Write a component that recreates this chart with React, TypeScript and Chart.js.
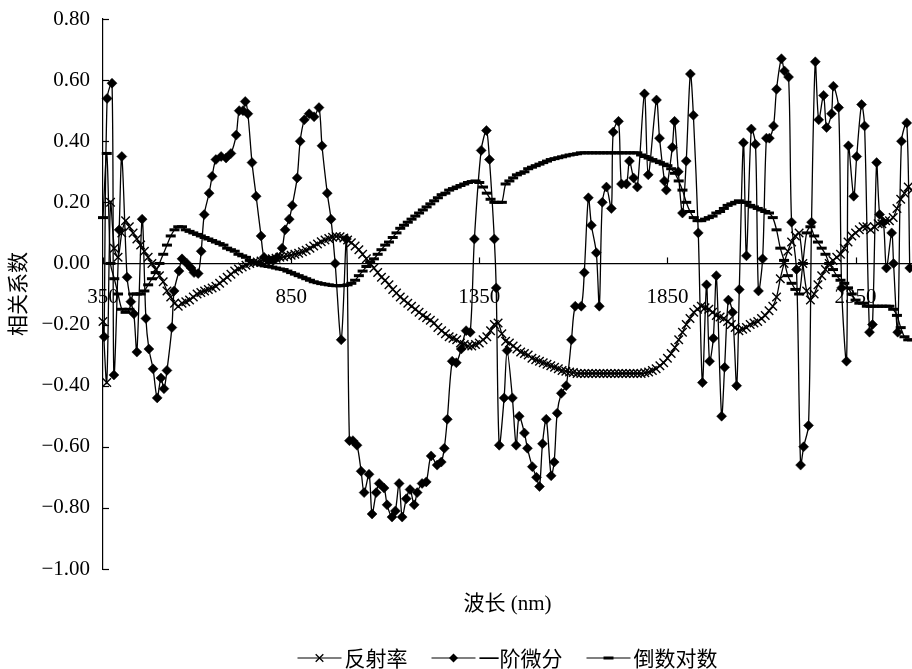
import React, { useEffect, useRef } from 'react';
import { Chart, registerables } from 'chart.js';

Chart.register(...registerables);

// Wavelength categories (nm), 10 nm step
const wavelengths = [
  350, 360, 370, 380, 390, 400, 410, 420, 430, 440,
  450, 460, 470, 480, 490, 500, 510, 520, 530, 540,
  550, 560, 570, 580, 590, 600, 610, 620, 630, 640,
  650, 660, 670, 680, 690, 700, 710, 720, 730, 740,
  750, 760, 770, 780, 790, 800, 810, 820, 830, 840,
  850, 860, 870, 880, 890, 900, 910, 920, 930, 940,
  950, 960, 970, 980, 990, 1000, 1010, 1020, 1030, 1040,
  1050, 1060, 1070, 1080, 1090, 1100, 1110, 1120, 1130, 1140,
  1150, 1160, 1170, 1180, 1190, 1200, 1210, 1220, 1230, 1240,
  1250, 1260, 1270, 1280, 1290, 1300, 1310, 1320, 1330, 1340,
  1350, 1360, 1370, 1380, 1390, 1400, 1410, 1420, 1430, 1440,
  1450, 1460, 1470, 1480, 1490, 1500, 1510, 1520, 1530, 1540,
  1550, 1560, 1570, 1580, 1590, 1600, 1610, 1620, 1630, 1640,
  1650, 1660, 1670, 1680, 1690, 1700, 1710, 1720, 1730, 1740,
  1750, 1760, 1770, 1780, 1790, 1800, 1810, 1820, 1830, 1840,
  1850, 1860, 1870, 1880, 1890, 1900, 1910, 1920, 1930, 1940,
  1950, 1960, 1970, 1980, 1990, 2000, 2010, 2020, 2030, 2040,
  2050, 2060, 2070, 2080, 2090, 2100, 2110, 2120, 2130, 2140,
  2150, 2160, 2170, 2180, 2190, 2200, 2210, 2220, 2230, 2240,
  2250, 2260, 2270, 2280, 2290, 2300, 2310, 2320, 2330, 2340,
  2350, 2360, 2370, 2380, 2390, 2400, 2410, 2420, 2430, 2440,
  2450, 2460, 2470, 2480, 2490, 2500,
];

// 反射率
const reflectance = [
  -0.19, -0.39, 0.20, 0.05, 0.02, 0.10, 0.14, 0.12, 0.10, 0.08,
  0.06, 0.04, 0.02, 0.00, -0.02, -0.04, -0.06, -0.09, -0.11, -0.13,
  -0.14, -0.13, -0.125, -0.12, -0.11, -0.10, -0.095, -0.09, -0.085, -0.08,
  -0.075, -0.065, -0.055, -0.045, -0.035, -0.025, -0.018, -0.012, -0.006, 0.0,
  0.003, 0.005, 0.008, 0.01, 0.012, 0.015, 0.017, 0.02, 0.022, 0.025,
  0.027, 0.03, 0.033, 0.038, 0.043, 0.05, 0.057, 0.064, 0.071, 0.077,
  0.082, 0.086, 0.088, 0.087, 0.083, 0.077, 0.068, 0.057, 0.045, 0.03,
  0.015, 0.0, -0.015, -0.03, -0.045, -0.055, -0.07, -0.085, -0.097, -0.11,
  -0.12, -0.13, -0.14, -0.15, -0.16, -0.17, -0.178, -0.186, -0.195, -0.21,
  -0.22, -0.23, -0.24, -0.245, -0.25, -0.26, -0.265, -0.27, -0.27, -0.265,
  -0.26, -0.25, -0.24, -0.22, -0.20, -0.195, -0.23, -0.255, -0.26, -0.27,
  -0.28, -0.29, -0.295, -0.30, -0.31, -0.315, -0.32, -0.325, -0.33, -0.335,
  -0.34, -0.345, -0.35, -0.353, -0.355, -0.357, -0.36, -0.36, -0.36, -0.36,
  -0.36, -0.36, -0.36, -0.36, -0.36, -0.36, -0.36, -0.36, -0.36, -0.36,
  -0.36, -0.36, -0.36, -0.36, -0.358, -0.355, -0.35, -0.345, -0.335, -0.325,
  -0.31, -0.295, -0.275, -0.25, -0.225, -0.2, -0.18, -0.16, -0.15, -0.14,
  -0.145, -0.15, -0.16, -0.17, -0.175, -0.18, -0.19, -0.20, -0.21, -0.22,
  -0.215, -0.21, -0.2, -0.195, -0.19, -0.18, -0.17, -0.155, -0.14, -0.11,
  -0.05, 0.0, 0.04, 0.07, 0.09, 0.10, 0.0, -0.09, -0.12, -0.10,
  -0.07, -0.04, -0.02, 0.0, 0.01, 0.02, 0.03, 0.05, 0.07, 0.09,
  0.10, 0.11, 0.12, 0.12, 0.11, 0.12, 0.13, 0.13, 0.14, 0.14,
  0.15, 0.18, 0.21, 0.23, 0.25, 0.24,
];

// 倒数对数
const logReciprocal = [
  0.15, 0.36, 0.0, -0.05, -0.10, -0.15, -0.16, -0.15, -0.10, -0.10,
  -0.10, -0.09, -0.07, -0.05, -0.03, 0.0, 0.03, 0.06, 0.09, 0.11,
  0.12, 0.12, 0.11, 0.105, 0.10, 0.095, 0.09, 0.085, 0.08, 0.075,
  0.07, 0.065, 0.06, 0.05, 0.045, 0.04, 0.03, 0.025, 0.02, 0.01,
  0.005, 0.0, -0.005, -0.008, -0.01, -0.012, -0.015, -0.018, -0.02, -0.025,
  -0.03, -0.035, -0.04, -0.045, -0.05, -0.055, -0.06, -0.063, -0.066, -0.068,
  -0.07, -0.072, -0.073, -0.073, -0.072, -0.07, -0.065, -0.055, -0.04, -0.025,
  -0.01, 0.005, 0.015, 0.03, 0.045, 0.06, 0.07, 0.085, 0.10, 0.115,
  0.125, 0.135, 0.145, 0.155, 0.165, 0.175, 0.185, 0.195, 0.205, 0.215,
  0.225, 0.23, 0.24, 0.245, 0.25, 0.255, 0.26, 0.265, 0.268, 0.27,
  0.265, 0.25, 0.23, 0.21, 0.2, 0.2, 0.2, 0.26, 0.27, 0.28,
  0.29, 0.295, 0.30, 0.31, 0.315, 0.32, 0.325, 0.33, 0.335, 0.34,
  0.343, 0.346, 0.349, 0.352, 0.355, 0.357, 0.359, 0.362, 0.362, 0.362,
  0.362, 0.362, 0.362, 0.362, 0.362, 0.362, 0.362, 0.362, 0.362, 0.362,
  0.362, 0.362, 0.362, 0.355, 0.35, 0.345, 0.34, 0.335, 0.33, 0.325,
  0.32, 0.31, 0.295, 0.27, 0.24, 0.2, 0.17, 0.15, 0.14, 0.14,
  0.145, 0.15, 0.155, 0.165, 0.17, 0.18, 0.19, 0.195, 0.2, 0.205,
  0.2, 0.2, 0.19, 0.185, 0.18, 0.175, 0.17, 0.165, 0.15, 0.11,
  0.05, 0.01, -0.04, -0.065, -0.085, -0.10, 0.0, 0.10, 0.12, 0.09,
  0.07, 0.05, 0.03, 0.0, -0.02, -0.04, -0.055, -0.065, -0.08, -0.10,
  -0.12, -0.13, -0.13, -0.14, -0.14, -0.14, -0.14, -0.14, -0.14, -0.14,
  -0.15, -0.17, -0.21, -0.24, -0.25, -0.25,
];

// 一阶微分 (wavelength positions and values)
const derivWavelengths = [
  353, 361, 374, 379, 393, 400, 414, 424, 432, 440,
  454, 464, 472, 483, 494, 504, 512, 520, 533, 539,
  552, 560, 573, 584, 592, 603, 611, 619, 632, 640,
  650, 664, 677, 690, 704, 712, 722, 728, 735, 746,
  757, 770, 778, 791, 802, 813, 826, 834, 845, 853,
  866, 874, 885, 898, 911, 924, 932, 946, 956, 967,
  983, 997, 1005, 1014, 1025, 1036, 1044, 1057, 1065, 1076,
  1084, 1097, 1105, 1118, 1127, 1137, 1145, 1156, 1166, 1177,
  1185, 1198, 1209, 1222, 1238, 1249, 1257, 1265, 1278, 1289,
  1302, 1315, 1326, 1337, 1355, 1369, 1377, 1390, 1395, 1403,
  1416, 1424, 1438, 1448, 1456, 1470, 1478, 1491, 1502, 1510,
  1518, 1528, 1541, 1549, 1557, 1568, 1581, 1595, 1605, 1621,
  1629, 1640, 1648, 1661, 1669, 1677, 1688, 1701, 1706, 1720,
  1728, 1741, 1749, 1760, 1770, 1789, 1799, 1821, 1829, 1842,
  1847, 1863, 1869, 1879, 1890, 1900, 1911, 1919, 1932, 1943,
  1954, 1962, 1972, 1980, 1994, 2002, 2012, 2023, 2034, 2041,
  2052, 2060, 2073, 2084, 2092, 2103, 2113, 2121, 2132, 2140,
  2153, 2161, 2172, 2180, 2193, 2204, 2212, 2225, 2233, 2243,
  2252, 2265, 2273, 2286, 2291, 2305, 2313, 2326, 2331, 2345,
  2353, 2366, 2374, 2387, 2395, 2406, 2414, 2424, 2432, 2446,
  2451, 2462, 2472, 2486, 2494,
];
const derivValues = [
  -0.24, 0.54, 0.59, -0.365, 0.11, 0.35, -0.045, -0.125, -0.165, -0.29,
  0.145, -0.18, -0.28, -0.345, -0.44, -0.375, -0.41, -0.35, -0.21, -0.09,
  -0.025, 0.015, 0.0, -0.015, -0.03, -0.033, 0.04, 0.16, 0.23, 0.285,
  0.34, 0.35, 0.345, 0.36, 0.42, 0.50, 0.50, 0.53, 0.49, 0.33,
  0.22, 0.09, 0.02, 0.01, 0.01, 0.02, 0.05, 0.11, 0.145, 0.19,
  0.28, 0.40, 0.47, 0.49, 0.48, 0.51, 0.385, 0.23, 0.145, 0.0,
  -0.25, 0.08, -0.58, -0.58, -0.595, -0.68, -0.75, -0.69, -0.82, -0.75,
  -0.72, -0.735, -0.79, -0.83, -0.81, -0.72, -0.83, -0.77, -0.74, -0.79,
  -0.75, -0.72, -0.715, -0.63, -0.66, -0.65, -0.605, -0.51, -0.32, -0.325,
  -0.28, -0.22, -0.225, 0.08, 0.37, 0.435, 0.34, 0.08, -0.08, -0.595,
  -0.44, -0.285, -0.44, -0.595, -0.50, -0.555, -0.605, -0.665, -0.70, -0.73,
  -0.59, -0.51, -0.695, -0.65, -0.49, -0.425, -0.40, -0.25, -0.14, -0.14,
  -0.03, 0.215, 0.125, 0.035, -0.14, 0.20, 0.25, 0.18, 0.43, 0.465,
  0.26, 0.26, 0.335, 0.28, 0.25, 0.555, 0.29, 0.535, 0.41, 0.27,
  0.24, 0.38, 0.465, 0.30, 0.165, 0.335, 0.62, 0.485, 0.10, -0.39,
  -0.07, -0.32, -0.245, -0.04, -0.50, -0.34, -0.12, -0.16, -0.40, -0.085,
  0.395, 0.025, 0.44, 0.39, -0.09, 0.015, 0.41, 0.41, 0.45, 0.57,
  0.67, 0.63, 0.61, 0.135, -0.02, -0.66, -0.60, -0.53, 0.135, 0.66,
  0.47, 0.55, 0.445, 0.49, 0.58, 0.51, -0.08, -0.32, 0.385, 0.22,
  0.35, 0.52, 0.45, -0.225, -0.20, 0.33, 0.16, 0.135, -0.015, 0.10,
  0.0, -0.225, 0.40, 0.46, -0.015,
];

const seriesNames = ['反射率', '一阶微分', '倒数对数'];
const xTickValues = [350, 850, 1350, 1850, 2350];
const yTickValues = [-1.0, -0.8, -0.6, -0.4, -0.2, 0.0, 0.2, 0.4, 0.6, 0.8];
const xTitle = '波长 (nm)';
const yTitle = '相关系数';

const SERIF = '"Liberation Serif", "Times New Roman", serif';
const CJK = '"Noto Sans CJK SC", sans-serif';
const MIXED = '"Liberation Serif", "Noto Sans CJK SC", serif';

function fmtY(v: number): string {
  if (Math.abs(v) < 1e-9) return '0.00';
  const s = Math.abs(v).toFixed(2);
  return v < 0 ? '\u2212' + s : s;
}

function drawMarker(ctx: CanvasRenderingContext2D, kind: string, x: number, y: number) {
  ctx.save();
  ctx.strokeStyle = '#000';
  ctx.fillStyle = '#000';
  if (kind === 'cross') {
    const d = 3.8;
    ctx.lineWidth = 1.3;
    ctx.beginPath();
    ctx.moveTo(x - d, y - d);
    ctx.lineTo(x + d, y + d);
    ctx.moveTo(x - d, y + d);
    ctx.lineTo(x + d, y - d);
    ctx.stroke();
  } else if (kind === 'diamond') {
    const d = 4.5;
    ctx.beginPath();
    ctx.moveTo(x, y - d);
    ctx.lineTo(x + d, y);
    ctx.lineTo(x, y + d);
    ctx.lineTo(x - d, y);
    ctx.closePath();
    ctx.fill();
  } else {
    ctx.lineWidth = 3;
    ctx.beginPath();
    ctx.moveTo(x - 5, y);
    ctx.lineTo(x + 5, y);
    ctx.stroke();
  }
  ctx.restore();
}

const decorPlugin = {
  id: 'decor',
  afterDraw(chart: any) {
    const { ctx, chartArea: ca, scales } = chart;
    const xs = scales.x;
    const ys = scales.y;
    ctx.save();
    ctx.strokeStyle = '#000';
    ctx.lineWidth = 1.2;
    // y tick marks (inward)
    ys.ticks.forEach((t: any) => {
      const py = Math.round(ys.getPixelForValue(t.value)) + 0.5;
      ctx.beginPath();
      ctx.moveTo(ca.left, py);
      ctx.lineTo(ca.left + 6, py);
      ctx.stroke();
    });
    // x tick marks (upward from zero line)
    const y0 = ys.getPixelForValue(0);
    xs.ticks.forEach((t: any) => {
      const px = Math.round(xs.getPixelForValue(t.value)) + 0.5;
      ctx.beginPath();
      ctx.moveTo(px, y0);
      ctx.lineTo(px, y0 - 6);
      ctx.stroke();
    });

    // x axis title
    const cx = (ca.left + ca.right) / 2;
    ctx.fillStyle = '#000';
    ctx.textAlign = 'center';
    ctx.textBaseline = 'middle';
    ctx.font = '21px ' + MIXED;
    ctx.fillText(xTitle, cx, 604);

    // legend
    const kinds = ['cross', 'diamond', 'dash'];
    const lineLen = 44;
    const textGap = 3;
    const itemGap = 24;
    ctx.font = '21px ' + CJK;
    const widths = seriesNames.map((n) => ctx.measureText(n).width);
    const total = widths.reduce((a, w) => a + lineLen + textGap + w, 0) + itemGap * (seriesNames.length - 1);
    let lx = cx - total / 2;
    const ly = 658;
    ctx.textAlign = 'left';
    seriesNames.forEach((name, i) => {
      ctx.strokeStyle = '#000';
      ctx.lineWidth = 1.2;
      ctx.beginPath();
      ctx.moveTo(lx, ly);
      ctx.lineTo(lx + lineLen, ly);
      ctx.stroke();
      drawMarker(ctx, kinds[i], lx + lineLen / 2, ly);
      ctx.fillStyle = '#000';
      ctx.fillText(name, lx + lineLen + textGap, ly);
      lx += lineLen + textGap + widths[i] + itemGap;
    });
    ctx.restore();
  },
};

export default function App() {
  const canvasRef = useRef<HTMLCanvasElement | null>(null);

  useEffect(() => {
    document.body.style.margin = '0';
    document.body.style.overflow = 'hidden';
    document.documentElement.style.overflow = 'hidden';
    const canvas = canvasRef.current;
    if (!canvas) return;
    const chart = new Chart(canvas, {
      type: 'line',
      data: {
        datasets: [
          {
            label: seriesNames[0],
            data: wavelengths.map((w, i) => ({ x: w, y: reflectance[i] })),
            borderColor: '#000',
            borderWidth: 1.3,
            pointStyle: 'crossRot',
            pointRadius: 6,
            pointBorderWidth: 1.4,
            pointBorderColor: '#000',
            pointBackgroundColor: '#000',
            tension: 0.3,
            order: 3,
            clip: false,
          },
          {
            label: seriesNames[1],
            data: derivWavelengths.map((w, i) => ({ x: w, y: derivValues[i] })),
            borderColor: '#000',
            borderWidth: 1.3,
            pointStyle: 'rectRot',
            pointRadius: 5,
            pointBorderWidth: 0.5,
            pointBorderColor: '#000',
            pointBackgroundColor: '#000',
            tension: 0.3,
            order: 2,
            clip: false,
          },
          {
            label: seriesNames[2],
            data: wavelengths.map((w, i) => ({ x: w, y: logReciprocal[i] })),
            borderColor: '#000',
            borderWidth: 1.3,
            pointStyle: 'line',
            pointRadius: 5,
            pointBorderWidth: 3,
            pointBorderColor: '#000',
            pointBackgroundColor: '#000',
            tension: 0.3,
            order: 1,
            clip: false,
          },
        ],
      },
      options: {
        responsive: false,
        animation: false,
        devicePixelRatio: 1,
        events: [],
        layout: { padding: { top: 19, bottom: 100, left: 0, right: 0 } },
        plugins: { legend: { display: false }, tooltip: { enabled: false } },
        scales: {
          x: {
            type: 'linear',
            min: 350,
            max: 2500,
            position: { y: 0 } as any,
            grid: { display: false, drawTicks: true, tickLength: 21 },
            border: { display: true, color: '#000', width: 1.2 },
            afterBuildTicks: (s: any) => {
              s.ticks = xTickValues.map((v) => ({ value: v }));
            },
            ticks: {
              autoSkip: false,
              maxRotation: 0,
              padding: 0,
              color: '#000',
              font: { family: SERIF, size: 21 },
              callback: (v: any) => String(v),
            },
          },
          y: {
            type: 'linear',
            min: -1,
            max: 0.8,
            grid: { display: false, drawTicks: true, tickLength: 13 },
            border: { display: true, color: '#000', width: 1.2 },
            afterBuildTicks: (s: any) => {
              s.ticks = yTickValues.map((v) => ({ value: v }));
            },
            afterFit: (s: any) => {
              s.width = 103;
            },
            ticks: {
              padding: 0,
              color: '#000',
              font: { family: SERIF, size: 21 },
              callback: (v: any) => fmtY(Number(v)),
            },
            title: {
              display: true,
              text: yTitle,
              color: '#000',
              font: { family: CJK, size: 21 },
              padding: { top: 4, bottom: 0 },
            },
          },
        },
      },
      plugins: [decorPlugin],
    } as any);
    return () => chart.destroy();
  }, []);

  return (
    <div style={{ width: 912, height: 669, overflow: 'hidden' }}>
      <canvas ref={canvasRef} width={920} height={669} style={{ display: 'block' }} />
    </div>
  );
}
